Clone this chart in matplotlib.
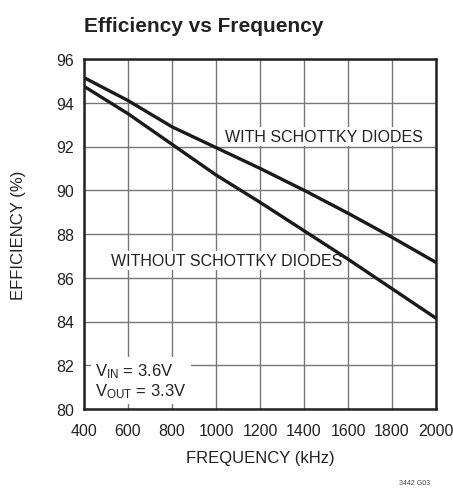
import matplotlib.pyplot as plt

# Dados
freq = [400, 600, 800, 1000, 1200, 1400, 1600, 1800, 2000]
with_schottky = [95.15, 94.1, 92.9, 91.95, 91.0, 90.0, 88.95, 87.85, 86.7]
without_schottky = [94.75, 93.5, 92.1, 90.7, 89.45, 88.15, 86.85, 85.5, 84.15]

xticks = [400, 600, 800, 1000, 1200, 1400, 1600, 1800, 2000]
yticks = [80, 82, 84, 86, 88, 90, 92, 94, 96]

plt.rcParams['font.family'] = ['Liberation Sans', 'DejaVu Sans']

fig = plt.figure(figsize=(4.53, 4.89), dpi=100)
ax = fig.add_axes([84 / 453, 1 - 410 / 489, 352 / 453, 350 / 489])

ax.plot(freq, with_schottky, color='#1a1a1a', lw=2.4, zorder=5)
ax.plot(freq, without_schottky, color='#1a1a1a', lw=2.4, zorder=5)

ax.set_xlim(400, 2000)
ax.set_ylim(80, 96)
ax.set_xticks(xticks)
ax.set_yticks(yticks)
ax.tick_params(length=0, labelsize=11.5, colors='#222222')
ax.tick_params(axis='x', pad=10)
ax.tick_params(axis='y', pad=7)
ax.grid(True, color='#777777', lw=1)
for s in ax.spines.values():
    s.set_linewidth(1.8)
    s.set_color('#222222')
    s.set_zorder(6)

ax.set_xlabel('FREQUENCY (kHz)', fontsize=12, color='#222222', labelpad=9)
ax.set_ylabel('EFFICIENCY (%)', fontsize=12, color='#222222', labelpad=22)

box = dict(facecolor='white', edgecolor='none', pad=1.5)
ax.text(1490, 92.45, 'WITH SCHOTTKY DIODES', fontsize=11.5, ha='center', va='center',
        color='#222222', bbox=box, zorder=4)
ax.text(1050, 86.8, 'WITHOUT SCHOTTKY DIODES', fontsize=11.5, ha='center', va='center',
        color='#222222', bbox=box, zorder=4)
ax.text(450, 81.3, '$\\mathregular{V_{IN}}$ = 3.6V\n$\\mathregular{V_{OUT}}$ = 3.3V',
        fontsize=12, ha='left', va='center', color='#222222', linespacing=1.15,
        bbox=dict(facecolor='white', edgecolor='none', pad=3), zorder=4)

fig.text(84 / 453, 1 - 26 / 489, 'Efficiency vs Frequency', fontsize=15,
         fontweight='bold', ha='left', va='center', color='#222222')
fig.text(430 / 453, 1 - 484 / 489, '3442 G03', fontsize=5, ha='right', va='center',
         color='#444444')

fig.savefig('out.png', dpi=100)
